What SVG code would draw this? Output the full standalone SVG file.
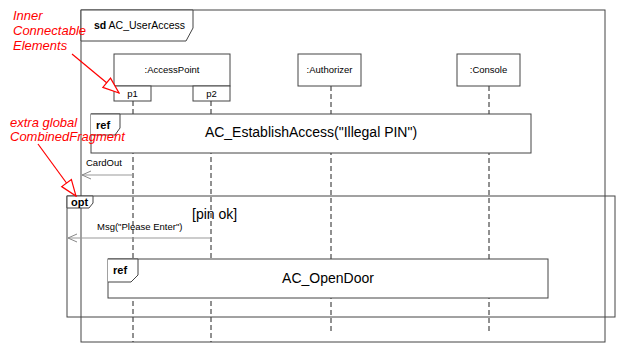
<svg xmlns="http://www.w3.org/2000/svg" width="623" height="356" viewBox="0 0 623 356">
  <style>
    text { font-family: "Liberation Sans", Arial, sans-serif; fill: #000; }
    .frame { fill: none; stroke: #444; stroke-width: 1; }
    .box { fill: #fff; stroke: #444; stroke-width: 1; }
    .tab { fill: #fff; stroke: #444; stroke-width: 1; }
    .life { stroke: #222; stroke-width: 1; stroke-dasharray: 5 3; fill: none; }
    .msg { stroke: #999; stroke-width: 1.2; fill: none; marker-end: url(#open); }
    .note { fill: #ff0000; font-style: italic; font-size: 13px; }
    .noteline { stroke: #ff0000; stroke-width: 1.2; fill: none; marker-end: url(#hollow); }
    .kw { font-weight: bold; font-size: 11px; }
    .lbl { font-size: 9.5px; }
    .big { font-size: 14px; }
  </style>
  <defs>
    <marker id="open" viewBox="-11 -5 12 10" refX="0" refY="0" markerWidth="12" markerHeight="10" markerUnits="userSpaceOnUse" orient="auto">
      <path d="M-9,-4 L0,0 L-9,4" fill="none" stroke="#888" stroke-width="1"/>
    </marker>
    <marker id="hollow" viewBox="-1 -1 18 14" refX="16" refY="6" markerWidth="18" markerHeight="14" markerUnits="userSpaceOnUse" orient="auto">
      <polygon points="0,0 16,6 0,12" fill="#fff" stroke="#ff0000" stroke-width="1.2"/>
    </marker>
  </defs>

  <!-- enclosing interaction frame -->
  <g id="frame-sd">
    <rect class="frame" x="81" y="10" width="524" height="332"/>
    <path class="tab" d="M81,10 H193 V28 L186,41 H81 Z"/>
    <text x="94" y="29" font-size="10.5"><tspan font-weight="bold">sd</tspan> AC_UserAccess</text>
  </g>

  <!-- lifelines (behind boxes) -->
  <g id="lifelines">
    <line class="life" x1="133" y1="101" x2="133" y2="342"/>
    <line class="life" x1="211" y1="101" x2="211" y2="342"/>
    <line class="life" x1="331" y1="86" x2="331" y2="333"/>
    <line class="life" x1="489" y1="86" x2="489" y2="333"/>
  </g>

  <!-- participants -->
  <g id="accesspoint">
    <rect class="box" x="114" y="54" width="116" height="32"/>
    <text x="172" y="73" class="lbl" text-anchor="middle">:AccessPoint</text>
    <rect class="box" x="114" y="86" width="37" height="15"/>
    <text x="132.5" y="97" class="lbl" text-anchor="middle">p1</text>
    <rect class="box" x="193" y="86" width="37" height="15"/>
    <text x="211.5" y="97" class="lbl" text-anchor="middle">p2</text>
  </g>
  <g id="authorizer">
    <rect class="box" x="298" y="54" width="63" height="32"/>
    <text x="329.5" y="73" class="lbl" text-anchor="middle">:Authorizer</text>
  </g>
  <g id="console">
    <rect class="box" x="457" y="54" width="63" height="32"/>
    <text x="488.5" y="73" class="lbl" text-anchor="middle">:Console</text>
  </g>

  <!-- interaction use: establish access -->
  <g id="ref-establish">
    <rect class="box" x="91" y="114" width="440" height="39"/>
    <path class="tab" d="M91,114 H120 V128 L115,135 H91"/>
    <text x="96" y="129" class="kw">ref</text>
    <text x="311" y="137" class="big" text-anchor="middle">AC_EstablishAccess("Illegal PIN")</text>
  </g>

  <!-- combined fragment: opt -->
  <g id="opt-fragment">
    <rect class="frame" x="67" y="196" width="548" height="121"/>
    <path class="tab" d="M67,196 H93 V203 L89,208 H67 Z"/>
    <text x="71" y="206" class="kw">opt</text>
    <text x="192" y="219" class="big">[pin ok]</text>
  </g>

  <!-- interaction use: open door -->
  <g id="ref-opendoor">
    <rect class="box" x="108" y="259" width="440" height="39"/>
    <path class="tab" d="M108,259 H138 V275 L131,282 H108"/>
    <text x="113" y="274" class="kw">ref</text>
    <text x="328" y="283" class="big" text-anchor="middle">AC_OpenDoor</text>
  </g>

  <!-- messages -->
  <g id="connectors">
    <line class="msg" x1="133" y1="175" x2="82" y2="175"/>
    <text x="86" y="166" class="lbl">CardOut</text>
    <line class="msg" x1="211" y1="238" x2="68" y2="238"/>
    <text x="97" y="230" class="lbl">Msg("Please Enter")</text>
  </g>

  <!-- annotations -->
  <g id="note-inner">
    <text class="note" x="13" y="20">Inner</text>
    <text class="note" x="13" y="35">Connectable</text>
    <text class="note" x="13" y="50">Elements</text>
    <line class="noteline" x1="72" y1="54" x2="119" y2="93"/>
  </g>
  <g id="note-global">
    <text class="note" x="10" y="127">extra global</text>
    <text class="note" x="10" y="141">CombinedFragment</text>
    <line class="noteline" x1="38" y1="144" x2="76" y2="196"/>
  </g>
</svg>
